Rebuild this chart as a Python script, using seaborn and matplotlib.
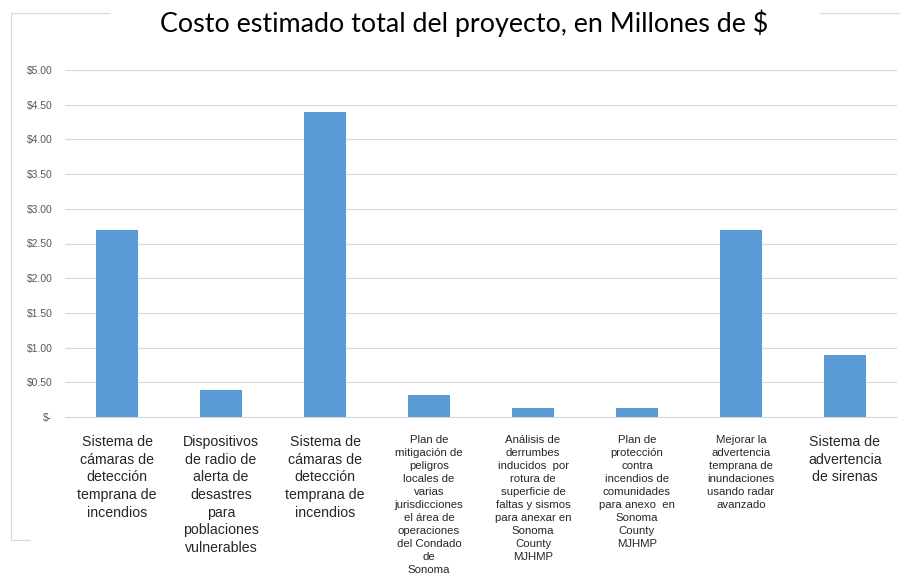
import matplotlib
matplotlib.use("Agg")
import matplotlib.pyplot as plt
from matplotlib.lines import Line2D
import seaborn as sns
import pandas as pd

# ---- data ----
labels = [
    "Sistema de\ncámaras de\ndetección\ntemprana de\nincendios",
    "Dispositivos\nde radio de\nalerta de\ndesastres\npara\npoblaciones\nvulnerables",
    "Sistema de\ncámaras de\ndetección\ntemprana de\nincendios",
    "Plan de\nmitigación de\npeligros\nlocales de\nvarias\njurisdicciones\nel área de\noperaciones\ndel Condado\nde\nSonoma",
    "Análisis de\nderrumbes\ninducidos  por\nrotura de\nsuperficie de\nfaltas y sismos\npara anexar en\nSonoma\nCounty\nMJHMP",
    "Plan de\nprotección\ncontra\nincendios de\ncomunidades\npara anexo  en\nSonoma\nCounty\nMJHMP",
    "Mejorar la\nadvertencia\ntemprana de\ninundaciones\nusando radar\navanzado",
    "Sistema de\nadvertencia\nde sirenas",
]
label_small = [False, False, False, True, True, True, True, False]
costs = [2.70, 0.39, 4.40, 0.32, 0.13, 0.13, 2.70, 0.89]
yticks = [0, 0.5, 1.0, 1.5, 2.0, 2.5, 3.0, 3.5, 4.0, 4.5, 5.0]
ytick_labels = ["$-", "$0.50", "$1.00", "$1.50", "$2.00", "$2.50",
                "$3.00", "$3.50", "$4.00", "$4.50", "$5.00"]
title = "Costo estimado total del proyecto, en Millones de $"

df = pd.DataFrame({"idx": list(range(len(costs))), "cost": costs})

sns.set_style("white")
plt.rcParams["font.family"] = ["Liberation Sans Narrow", "Liberation Sans", "DejaVu Sans"]

fig = plt.figure(figsize=(9, 5.83), dpi=100)
ax = fig.add_axes([65 / 900, 1 - 417 / 583, 832 / 900, (417 - 70) / 583])

sns.barplot(data=df, x="idx", y="cost", color="#5B9BD5", saturation=1,
            width=0.4, ax=ax, errorbar=None, zorder=3, linewidth=0)

ax.set_ylim(0, 5)
ax.set_yticks(yticks)
ax.set_yticklabels(ytick_labels, fontsize=7.5, color="#595959",
                   family=["Liberation Sans", "DejaVu Sans"])
ax.set_xticks(range(len(labels)))
ax.set_xticklabels(labels, color="#262626", va="top")
for t, small in zip(ax.get_xticklabels(), label_small):
    if small:
        t.set_fontsize(8.2)
        t.set_linespacing(1.38)
    else:
        t.set_fontsize(10.2)
        t.set_linespacing(1.33)
ax.tick_params(axis="both", length=0)
ax.tick_params(axis="x", pad=13)
ax.tick_params(axis="y", pad=9)
ax.set_xlabel("")
ax.set_ylabel("")
ax.grid(axis="y", color="#D9D9D9", linewidth=0.8, zorder=0)
for s in ["top", "right", "left"]:
    ax.spines[s].set_visible(False)
ax.spines["bottom"].set_color("#D9D9D9")
ax.spines["bottom"].set_linewidth(0.8)

fig.text(464 / 900, 1 - 23 / 583, title, ha="center", va="center",
         fontsize=19.4, color="#000000", family=["Lato", "DejaVu Sans"])

# partial chart frame lines
c = "#D9D9D9"
def L(x0, y0, x1, y1):
    fig.add_artist(Line2D([x0 / 900, x1 / 900], [1 - y0 / 583, 1 - y1 / 583],
                          color=c, linewidth=0.8, transform=fig.transFigure))
L(11, 13, 11, 540)
L(11, 13, 110, 13)
L(820, 13, 900, 13)
L(11, 540, 30, 540)

fig.savefig("out.png", dpi=100)
